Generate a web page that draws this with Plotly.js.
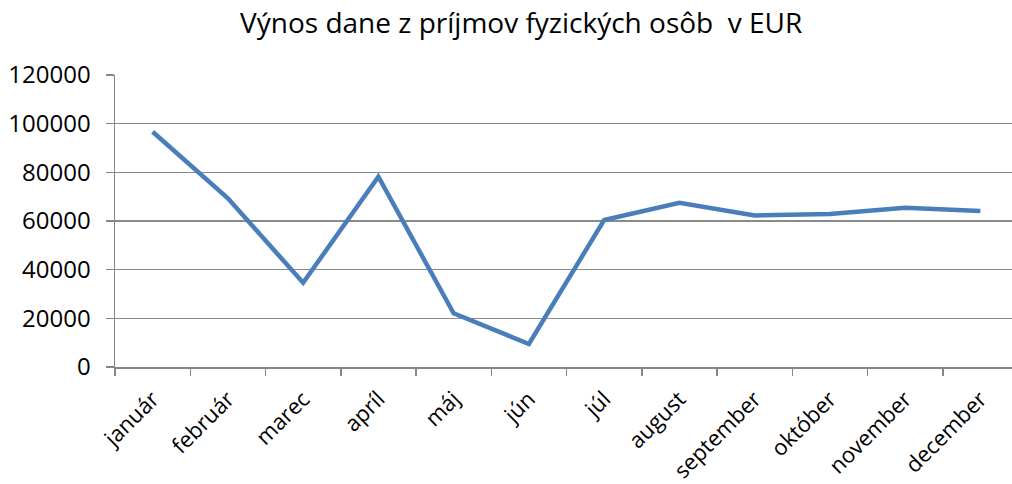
<!DOCTYPE html>
<html>
<head>
<meta charset="utf-8">
<script src="https://cdn.plot.ly/plotly-3.0.1.min.js"></script>
<style>html,body{margin:0;padding:0;background:#fff;}#chart{width:1012px;height:484px;}</style>
</head>
<body>
<div id="chart"></div>
<script>
const months = ["január","február","marec","apríl","máj","jún","júl","august","september","október","november","december"];
const values = [96700, 69300, 34650, 78200, 22100, 9450, 60400, 67500, 62300, 62900, 65400, 64100];
const yTicks = [0, 20000, 40000, 60000, 80000, 100000, 120000];
const titleText = "Výnos dane z príjmov fyzických osôb  v EUR";

const font = "Open Sans, Noto Sans, sans-serif";
Plotly.newPlot("chart", [{
  type: "scatter",
  mode: "lines",
  x: months,
  y: values,
  line: {color: "#4a7ebb", width: 4.5},
  hoverinfo: "x+y"
}], {
  width: 1012, height: 484,
  margin: {l: 115, r: 0, t: 75, b: 117},
  paper_bgcolor: "#fff", plot_bgcolor: "#fff",
  showlegend: false,
  title: {text: titleText, x: 0.515, xanchor: "center", y: 0.952, yanchor: "middle",
          font: {family: font, size: 28, color: "#000"}},
  xaxis: {
    type: "category",
    range: [-0.5, 11.42],
    tickson: "boundaries",
    ticks: "outside", ticklen: 7, tickcolor: "#868686", tickwidth: 1.5,
    showline: true, linecolor: "#868686", linewidth: 1.5,
    showgrid: false, zeroline: false,
    tickangle: -45,
    ticklabelstandoff: 9,
    tickfont: {family: font, size: 22, color: "#000"},
    automargin: false
  },
  yaxis: {
    range: [0, 120000],
    tickvals: yTicks,
    ticktext: yTicks.map(String),
    ticks: "outside", ticklen: 8, tickcolor: "#868686", tickwidth: 1.5,
    showline: true, linecolor: "#868686", linewidth: 1.5,
    showgrid: true, gridcolor: "#8a8a8a", gridwidth: 1.5,
    zeroline: false,
    ticklabelstandoff: 10,
    tickfont: {family: font, size: 24, color: "#000"},
    automargin: false
  }
}, {displayModeBar: false, staticPlot: true});
</script>
</body>
</html>
